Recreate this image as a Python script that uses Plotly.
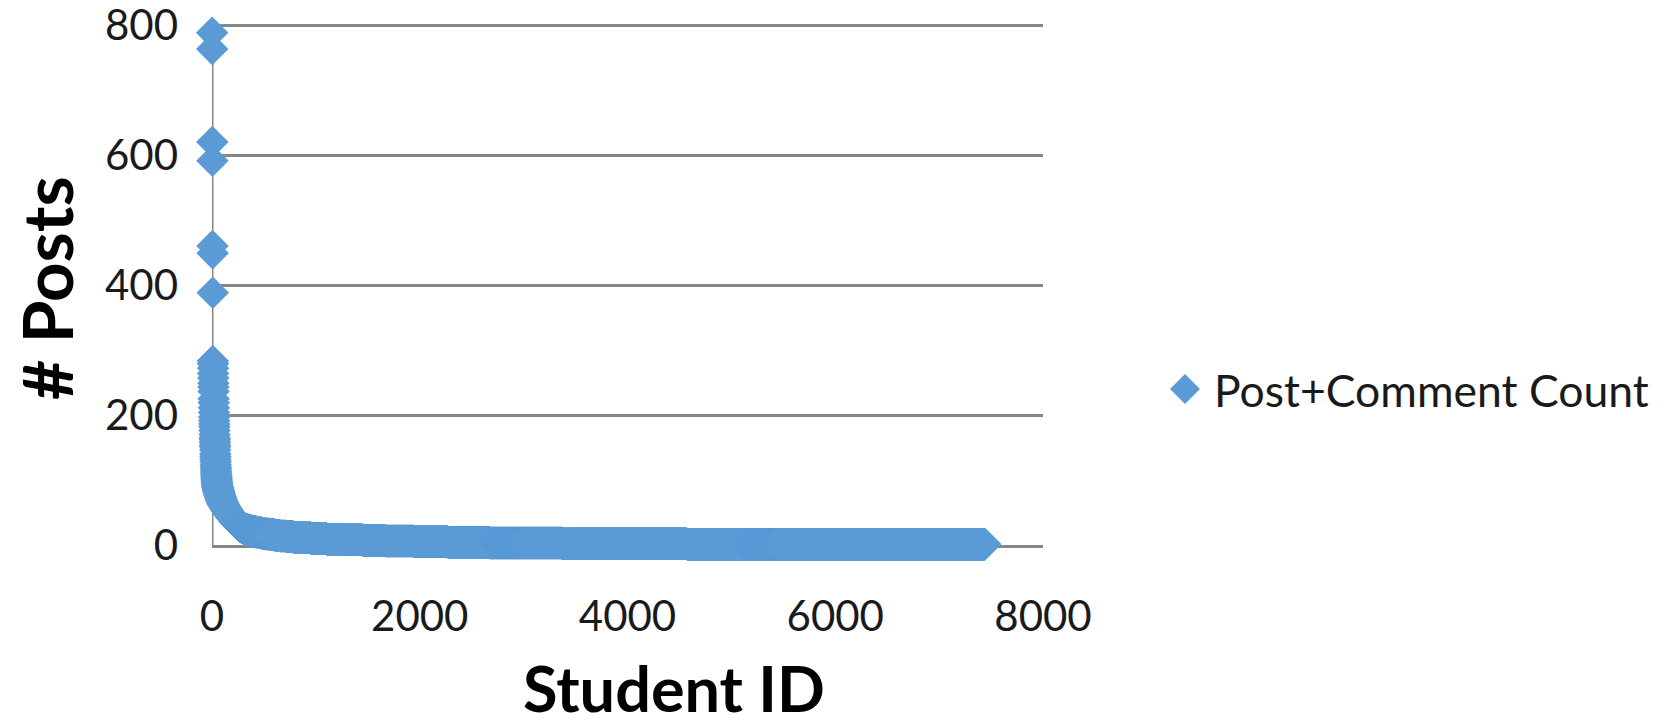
import numpy as np
import plotly.graph_objects as go

# Most active students, one student per value (highest first)
top_posts = [788, 763, 620, 591, 460, 449, 388, 283, 279, 272, 264, 257, 249,
             243, 236, 225, 219, 211, 204, 197, 191, 186, 182, 176, 170, 165,
             162, 158, 154, 151, 146, 140, 136, 132, 128, 124, 120, 117, 114,
             111, 108, 106, 104, 102, 100, 98, 97, 95, 94, 92, 91]

# Everyone else, grouped by post+comment count
post_levels = [90, 89, 88, 87, 86, 85, 84, 83, 82, 81, 80, 79, 78, 77, 76, 75,
               74, 73, 72, 71, 70, 69, 68, 67, 66, 65, 64, 63, 62, 61, 60, 59,
               58, 57, 56, 55, 54, 53, 52, 51, 50, 49, 48, 47, 46, 45, 44, 43,
               42, 41, 40, 39, 38, 37, 36, 35, 34, 33, 32, 31, 30, 29, 28, 27,
               26, 25, 24, 23, 22, 21, 20, 19, 18, 17, 16, 15, 14, 13, 12, 11,
               10, 9, 8, 7, 6, 5, 4, 3, 2, 1]
students_at_level = [2, 1, 2, 1, 2, 1, 2, 1,
                     2, 2, 2, 2, 2, 2, 2, 2, 2, 2, 2, 2, 2, 2,
                     3, 3, 3, 3, 3, 3, 3,
                     4, 4, 4, 4, 4, 4, 4, 4, 4, 4, 4, 4, 4, 4, 4,
                     5, 5, 5, 5, 5, 5, 5, 5, 5, 5,
                     6, 6, 6, 6, 6,
                     7, 7, 7,
                     8,
                     12, 14, 16, 18, 20, 22,
                     29, 31, 34, 37, 42,
                     45, 50, 60, 70, 80, 90,
                     150, 160, 190, 220, 270, 330,
                     400, 700, 1200, 2870]

x_ticks = [0, 2000, 4000, 6000, 8000]
y_ticks = [0, 200, 400, 600, 800]
series_name = "Post+Comment Count"

post_counts = np.concatenate([np.array(top_posts),
                              np.repeat(post_levels, students_at_level)])
student_ids = np.arange(1, len(post_counts) + 1)

W, H = 1671, 726
BLUE = "#5B9BD5"
GRID = "#878787"
FONT = "Lato"

# plot area in pixels: x 0..8000 -> 212..1043, y 0..800 -> 545..25
px_l, px_r, px_b = 212, 1043, 545
y_px_per_unit = 520 / 800
y_top_val = 805          # headroom so the 800 gridline is kept
px_t = px_b - y_top_val * y_px_per_unit

fig = go.Figure()
fig.add_trace(go.Scatter(
    x=student_ids, y=post_counts, mode="markers", name=series_name,
    marker=dict(symbol="diamond", size=25, color=BLUE, line=dict(width=0)),
    cliponaxis=False, showlegend=False,
))

# legend swatch on its own small axis pair
fig.add_trace(go.Scatter(
    x=[0], y=[0], mode="markers", xaxis="x2", yaxis="y2", showlegend=False,
    marker=dict(symbol="diamond", size=23, color=BLUE, line=dict(width=0)),
    cliponaxis=False, hoverinfo="skip",
))

fig.update_layout(
    template="none",
    width=W, height=H,
    margin=dict(l=0, r=0, t=0, b=0, pad=0),
    plot_bgcolor="white", paper_bgcolor="white",
    xaxis=dict(
        domain=[px_l / W, px_r / W], range=[0, 8000], tickvals=x_ticks,
        automargin=False, layer="below traces",
        showgrid=False, zeroline=False, showline=True, linecolor=GRID,
        linewidth=3, ticks="", ticklabelstandoff=33,
        ticklabeloverflow="allow",
        tickfont=dict(family=FONT, size=42, color="#1a1a1a"),
    ),
    yaxis=dict(
        domain=[1 - px_b / H, 1 - px_t / H], range=[0, y_top_val],
        tickvals=y_ticks,
        automargin=False, layer="below traces",
        showgrid=True, gridcolor=GRID, gridwidth=3, zeroline=False,
        showline=False, ticks="",
        ticklabelstandoff=33, ticklabeloverflow="allow",
        tickfont=dict(family=FONT, size=42, color="#1a1a1a"),
    ),
    xaxis2=dict(domain=[1165 / W, 1205 / W], range=[-1, 1], visible=False,
                anchor="y2", fixedrange=True, automargin=False),
    yaxis2=dict(domain=[1 - 409 / H, 1 - 369 / H], range=[-1, 1],
                visible=False, anchor="x2", fixedrange=True, automargin=False),
    shapes=[
        # vertical value axis from 0 to 800
        dict(type="line", xref="x", yref="y", x0=0, x1=0, y0=0, y1=800,
             line=dict(color=GRID, width=3), layer="below"),
    ],
    annotations=[
        dict(text="<b>Student ID</b>", x=674 / W, y=0,
             xref="paper", yref="paper", showarrow=False,
             xanchor="center", yanchor="bottom", yshift=-1,
             font=dict(family=FONT, size=63, color="#000")),
        dict(text="<b># Posts</b>", x=46 / W, y=1 - 288 / H,
             xref="paper", yref="paper", showarrow=False, textangle=-90,
             xanchor="center", yanchor="middle",
             font=dict(family=FONT, size=69, color="#000")),
        dict(text=series_name, x=1212 / W, y=1 - 389 / H,
             xref="paper", yref="paper", showarrow=False,
             xanchor="left", yanchor="middle",
             font=dict(family=FONT, size=44.5, color="#1a1a1a")),
    ],
)

fig.write_html("out.html")
